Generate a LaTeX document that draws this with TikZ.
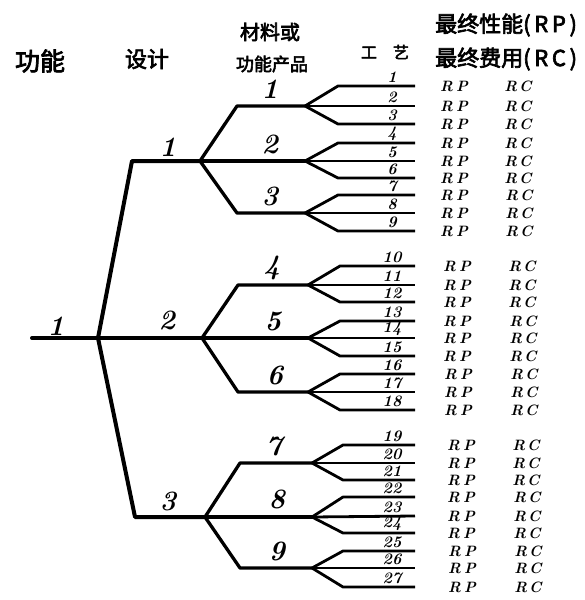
\documentclass[tikz,border=0pt]{standalone}
\usepackage{fontspec}
\newfontfamily\cjk[FakeBold=3]{Noto Sans CJK SC}
\tikzset{
  zhu/.style={line width=4pt, line join=round, line cap=round},
  zhi/.style={line width=3.3pt, line join=round, line cap=round},
  ye/.style={line width=2.8pt, line join=round},
  hao/.style={font=\fontsize{28}{28}\selectfont\bfseries\itshape},
  xiao/.style={font=\fontsize{16}{16}\selectfont\bfseries\itshape},
  zimu/.style={font=\fontsize{15}{15}\selectfont\bfseries\itshape, inner sep=0pt},
  biaoti/.style={font=\cjk\fontsize{22}{22}\selectfont},
}

\begin{document}
\begin{tikzpicture}[x=1pt,y=-1pt]
  \useasboundingbox (0,0) rectangle (584,600);

  % 表头
  \node[biaoti, font=\cjk\fontsize{25}{25}\selectfont] (gongneng) at (40,61) {功能};
  \node[biaoti] (sheji) at (147,59) {设计};
  \node[biaoti, font=\cjk\fontsize{20}{20}\selectfont] (cailiao) at (270,32) {材料或};
  \node[biaoti, font=\cjk\fontsize{18}{18}\selectfont] (chanpin) at (272,64) {功能产品};
  \node[biaoti, font=\cjk\fontsize{16}{16}\selectfont] (gongyi) at (385,52) {工\quad 艺};
  \node[biaoti, anchor=west, inner sep=0pt] (rp) at (435,25) {最终性能(\,R\,P\,)};
  \node[biaoti, anchor=west, inner sep=0pt] (rc) at (435,59) {最终费用(\,R\,C\,)};

  % 功能 -> 设计
  \coordinate (s) at (32,338);
  \coordinate (o) at (98,338);
  \coordinate (a1) at (132,161);
  \coordinate (b1) at (200,161);
  \coordinate (b2) at (202,338);
  \coordinate (a3) at (135,517);
  \coordinate (b3) at (205,517);
  \draw[zhu] (s) -- (o);
  \draw[zhu] (o) -- (a1) -- (b1);
  \draw[zhu] (o) -- (b2);
  \draw[zhu] (o) -- (a3) -- (b3);
  \node[hao] (r1) at (56,326) {1};
  \node[hao] (g1) at (168,147) {1};
  \node[hao] (g2) at (167,320) {2};
  \node[hao] (g3) at (168,501) {3};

  % 设计 -> 材料或功能产品
  \foreach \j/\cx/\gx/\ya/\yb/\yc in {1/237/305/106/161/213, 2/238/308/285/338/392, 3/240/312/463/517/568}{
    \pgfmathtruncatemacro\ka{3*\j-2}
    \pgfmathtruncatemacro\kb{3*\j-1}
    \pgfmathtruncatemacro\kc{3*\j}
    \coordinate (c\ka) at (\cx,\ya);
    \coordinate (c\kc) at (\cx,\yc);
    \coordinate (f\ka) at (\gx,\ya);
    \coordinate (f\kb) at (\gx,\yb);
    \coordinate (f\kc) at (\gx,\yc);
    \draw[zhi] (b\j) -- (c\ka) -- (f\ka);
    \draw[zhi] (b\j) -- (f\kb);
    \draw[zhi] (b\j) -- (c\kc) -- (f\kc);
  }

  % 工艺, 最终性能与费用
  \foreach \k/\cx/\lx/\rpx/\rcx/\ya/\yb/\yc in {
      1/338/270/454/518/86/106/124, 2/338/270/454/518/143/161/178, 3/338/270/454/519/195/213/231,
      4/340/272/457/522/266/285/302, 5/340/273/457/523/321/338/356, 6/340/275/458/524/374/392/410,
      7/343/274/461/526/445/463/480, 8/343/277/461/527/497/516/533, 9/343/277/462/528/551/568/587}{
    \pgfmathtruncatemacro\la{3*\k-2}
    \pgfmathtruncatemacro\lb{3*\k-1}
    \pgfmathtruncatemacro\lc{3*\k}
    \node[hao] (p\k) at (\lx,\yb-17) {\k};
    \coordinate (u\k) at (\cx,\ya);
    \coordinate (d\k) at (\cx,\yc);
    \coordinate (e\la) at (415,\ya);
    \coordinate (e\lb) at (415,\yb);
    \coordinate (e\lc) at (415,\yc);
    \draw[ye] (f\k) -- (u\k) -- (e\la);
    \draw[ye] (f\k) -- (e\lb);
    \draw[ye] (f\k) -- (d\k) -- (e\lc);
    \foreach \n/\y in {\la/\ya, \lb/\yb, \lc/\yc}{
      \node[xiao] (n\n) at (392,\y-9) {\n};
      \node[zimu] (rp\n) at (\rpx,\y) {R\kern3pt P};
      \node[zimu] (rc\n) at (\rcx,\y) {R\kern2pt C};
    }
  }
\end{tikzpicture}
\end{document}
